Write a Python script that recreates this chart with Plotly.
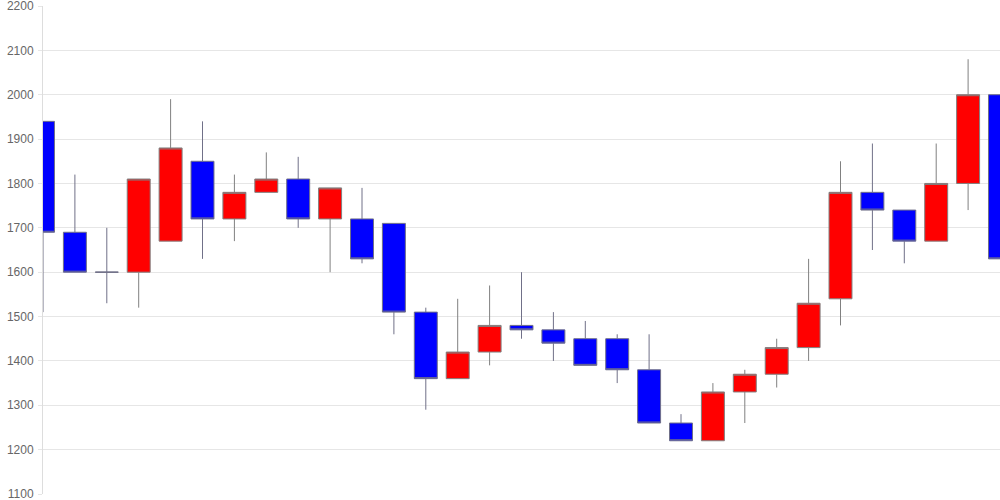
import plotly.graph_objects as go

idx = list(range(31))
opens = [1940, 1690, 1600, 1600, 1670, 1850, 1720, 1780, 1810, 1720, 1720, 1710, 1510, 1360, 1420, 1480,
         1470, 1450, 1450, 1380, 1260, 1220, 1330, 1370, 1430, 1540, 1780, 1740, 1670, 1800, 2000]
closes = [1690, 1600, 1600, 1810, 1880, 1720, 1780, 1810, 1720, 1790, 1630, 1510, 1360, 1420, 1480, 1470,
          1440, 1390, 1380, 1260, 1220, 1330, 1370, 1430, 1530, 1780, 1740, 1670, 1800, 2000, 1630]
highs = [1940, 1820, 1700, 1810, 1990, 1940, 1820, 1870, 1860, 1790, 1790, 1710, 1520, 1540, 1570, 1600,
         1510, 1490, 1460, 1460, 1280, 1350, 1380, 1450, 1630, 1850, 1890, 1740, 1890, 2080, 2000]
lows = [1510, 1600, 1530, 1520, 1670, 1630, 1670, 1780, 1700, 1600, 1620, 1460, 1290, 1360, 1390, 1450,
        1400, 1390, 1350, 1260, 1220, 1220, 1260, 1340, 1400, 1480, 1650, 1620, 1670, 1740, 1630]
y_ticks = [1100, 1200, 1300, 1400, 1500, 1600, 1700, 1800, 1900, 2000, 2100, 2200]

fig = go.Figure(go.Candlestick(
    x=idx, open=opens, high=highs, low=lows, close=closes,
    increasing=dict(fillcolor="#ff0000", line=dict(color="#808080", width=1)),
    decreasing=dict(fillcolor="#0000ff", line=dict(color="#707088", width=1)),
    whiskerwidth=0,
    showlegend=False,
    hoverinfo="skip",
))

fig.update_layout(
    width=1000, height=500,
    margin=dict(l=43, r=0, t=6, b=6, autoexpand=False),
    paper_bgcolor="white", plot_bgcolor="white",
    boxgap=0.28, boxgroupgap=0,
    font=dict(family="Liberation Sans, Arial, sans-serif", size=12, color="#666666"),
    xaxis=dict(range=[0, 30], showticklabels=False, showgrid=False, zeroline=False,
               rangeslider=dict(visible=False), showline=False, ticks="", automargin=False),
    yaxis=dict(range=[1100, 2200], tickvals=y_ticks, showgrid=True, gridcolor="#e6e6e6",
               gridwidth=1, zeroline=False, showline=True, linecolor="#dddddd", linewidth=1,
               ticks="outside", ticklen=4, tickcolor="#e6e6e6", automargin=False,
               ticklabeloverflow="allow", ticklabelstandoff=2,
               tickfont=dict(size=12, color="#666666")),
)

fig.write_html("out.html", config={"displayModeBar": False},
               post_script="document.body.style.margin='0';document.body.style.padding='0';")
